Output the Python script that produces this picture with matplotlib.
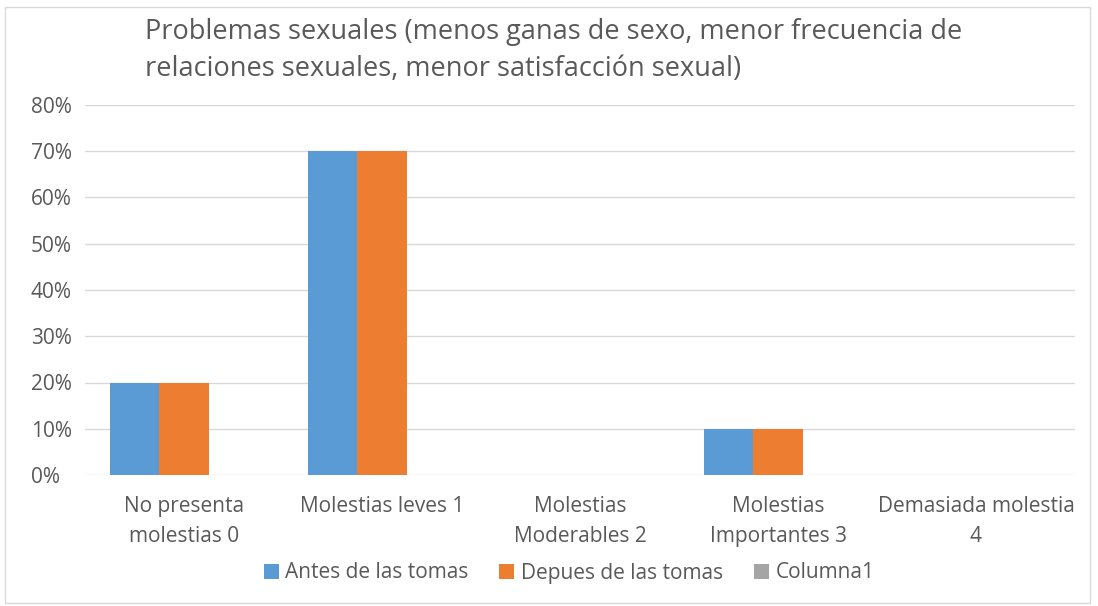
import matplotlib
matplotlib.use("Agg")
import matplotlib.pyplot as plt
from matplotlib.patches import Rectangle
from matplotlib.ticker import FuncFormatter
import numpy as np

categories = ["No presenta\nmolestias 0", "Molestias leves 1", "Molestias\nModerables 2",
              "Molestias\nImportantes 3", "Demasiada molestia\n4"]
antes = [0.20, 0.70, 0.0, 0.10, 0.0]
despues = [0.20, 0.70, 0.0, 0.10, 0.0]
columna1 = [0.0, 0.0, 0.0, 0.0, 0.0]
series_names = ["Antes de las tomas", "Depues de las tomas", "Columna1"]
colors = ["#5B9BD5", "#ED7D31", "#A5A5A5"]
title = "Problemas sexuales (menos ganas de sexo, menor frecuencia de\nrelaciones sexuales, menor satisfacción sexual)"

plt.rcParams['font.family'] = ['Open Sans', 'DejaVu Sans']

fig = plt.figure(figsize=(10.98, 6.06), dpi=100)
fig.patch.set_facecolor("white")
fig.add_artist(Rectangle((5/1098, 1-603/606), 1085/1098, 596/606, transform=fig.transFigure,
                         fill=False, edgecolor="#D9D9D9", linewidth=1))

ax = fig.add_axes([85/1098, 1-475/606, 990/1098, 370/606])
x = np.arange(len(categories))
w = 0.2475
for i, (vals, name, c) in enumerate(zip([antes, despues, columna1], series_names, colors)):
    ax.bar(x + (i-1)*w, vals, width=w, color=c, label=name, zorder=3)

ax.set_xlim(-0.5, len(categories)-0.5)
ax.set_ylim(0, 0.8)
ax.set_yticks(np.arange(0, 0.81, 0.1))
ax.yaxis.set_major_formatter(FuncFormatter(lambda v, p: f"{round(v*100)}%"))
ax.grid(axis="y", color="#D9D9D9", linewidth=1, zorder=0)
for s in ax.spines.values():
    s.set_visible(False)
ax.tick_params(axis="both", length=0, labelcolor="#595959", labelsize=15)
ax.tick_params(axis="y", pad=39)
for lbl in ax.get_yticklabels():
    lbl.set_horizontalalignment("left")
ax.set_xticks(x)
ax.set_xticklabels(categories, linespacing=1.55)
ax.tick_params(axis="x", pad=15)

fig.text(145/1098, 1-18/606, title, fontsize=19.5, color="#595959", ha="left", va="top", linespacing=1.42)

fig.legend(loc="center", bbox_to_anchor=(569/1098, 1-573/606), ncol=3, frameon=False,
           fontsize=15, labelcolor="#595959", handlelength=0.72, handleheight=0.72,
           handletextpad=0.3, columnspacing=1.5)

fig.savefig("out.png", dpi=100, facecolor="white")
